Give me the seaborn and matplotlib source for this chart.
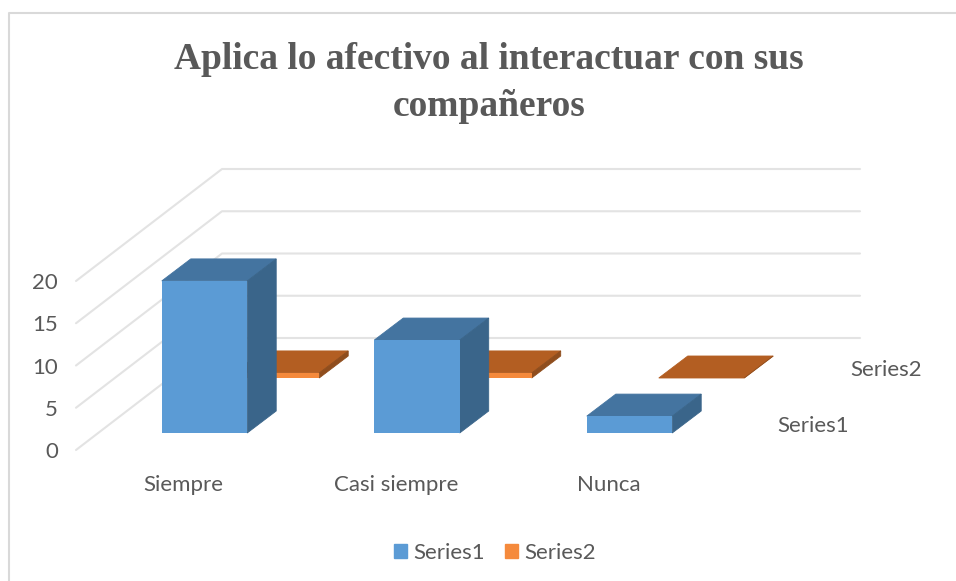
import matplotlib
matplotlib.use("Agg")
import matplotlib.pyplot as plt
from matplotlib.patches import Patch, Polygon
import pandas as pd
import seaborn as sns

# datos
categorias = ["Siempre", "Casi siempre", "Nunca"]
series1 = [18, 11, 2]
series2 = [0.6, 0.6, 0]
yticks = [0, 5, 10, 15, 20]
titulo = "Aplica lo afectivo al interactuar con sus\ncompañeros"

W, H = 956, 581
PX_UNIDAD = 8.45   # pixeles por unidad del eje y
PX_CAT = 212.5     # pixeles por categoria
FONDO_X, FONDO_Y = 29, 22   # profundidad de cada barra

AZUL = ("#5B9BD5", "#4474A0", "#3A658A")
NARANJA = ("#F58A3C", "#B35E22", "#8F4D1D")
GRIS = "#595959"
LINEA = "#E3E3E3"

sns.set_theme(style="white")
plt.rcParams["font.family"] = ["Lato", "DejaVu Sans"]
plt.rcParams["axes.facecolor"] = "none"

fig = plt.figure(figsize=(W / 100, H / 100), dpi=100)


def crear_ejes(izq, base):
    # izq y base en pixeles desde arriba a la izquierda
    ax = fig.add_axes([izq / W, (H - base) / H, 3 * PX_CAT / W, 20 * PX_UNIDAD / H])
    ax.patch.set_alpha(0)
    sns.despine(ax=ax, left=True, bottom=True)
    return ax


def barras_3d(ax, valores, colores, zorder):
    df = pd.DataFrame({"cat": categorias, "valor": valores})
    sns.barplot(data=df, x="cat", y="valor", color=colores[0], saturation=1,
                width=0.402, ax=ax, errorbar=None, zorder=zorder + 1, linewidth=0)
    ax.set_xlim(-0.5, 2.5)
    ax.set_ylim(0, 20)
    ax.set_xlabel("")
    ax.set_ylabel("")
    ax.set_xticks([])
    ax.set_yticks([])
    dx = FONDO_X / PX_CAT
    dy = FONDO_Y / PX_UNIDAD
    for b in ax.patches[:len(valores)]:
        x0, x1, h = b.get_x(), b.get_x() + b.get_width(), b.get_height()
        arriba = [(x0, h), (x1, h), (x1 + dx, h + dy), (x0 + dx, h + dy)]
        lado = [(x1, 0), (x1 + dx, dy), (x1 + dx, h + dy), (x1, h)]
        # el borde tapa la junta entre caras
        ax.add_patch(Polygon(arriba, closed=True, fc=colores[1], ec=colores[1], lw=0.6, clip_on=False, zorder=zorder))
        ax.add_patch(Polygon(lado, closed=True, fc=colores[2], ec=colores[2], lw=0.6, clip_on=False, zorder=zorder))


# fondo con marco y cuadricula
ax_fondo = fig.add_axes([0, 0, 1, 1])
ax_fondo.set_xlim(0, W)
ax_fondo.set_ylim(H, 0)
ax_fondo.axis("off")
ax_fondo.plot([9, 9, W], [H, 12.5, 12.5], color="#D9D9D9", lw=1.5)
for v in yticks:
    y = v * PX_UNIDAD
    ax_fondo.plot([76, 222, 860], [450 - y, 338 - y, 338 - y], color=LINEA, lw=1.5)

# la serie 2 va detras, desplazada en profundidad
ax2 = crear_ejes(170.25, 378)
barras_3d(ax2, series2, NARANJA, 2)
ax1 = crear_ejes(98.25, 433)
barras_3d(ax1, series1, AZUL, 3)

# ejes del frente, solo para las etiquetas
ax_eje = crear_ejes(77.25, 450)
ax_eje.set_xlim(-0.5, 2.5)
ax_eje.set_ylim(0, 20)
ax_eje.set_yticks(yticks)
ax_eje.set_xticks([0, 1, 2])
ax_eje.set_xticklabels(categorias)
ax_eje.tick_params(axis="both", length=0, labelsize=16, labelcolor=GRIS)
ax_eje.tick_params(axis="x", pad=18)
ax_eje.tick_params(axis="y", pad=14)

ax_fondo.text(813, 425.5, "Series1", ha="center", va="center", fontsize=16, color=GRIS)
ax_fondo.text(886, 369.5, "Series2", ha="center", va="center", fontsize=16, color=GRIS)

ax_fondo.text(489, 83, titulo, ha="center", va="center", fontsize=27, fontweight="bold",
              family="Liberation Serif", color=GRIS, linespacing=1.45)

fig.legend(handles=[Patch(color=AZUL[0], label="Series1"), Patch(color=NARANJA[0], label="Series2")],
           loc="center", bbox_to_anchor=(495 / W, 1 - 553 / H), ncol=2, frameon=False,
           fontsize=16, labelcolor=GRIS, handlelength=0.6, handleheight=0.6,
           handletextpad=0.27, columnspacing=0.9)

fig.savefig("out.png", dpi=100)
